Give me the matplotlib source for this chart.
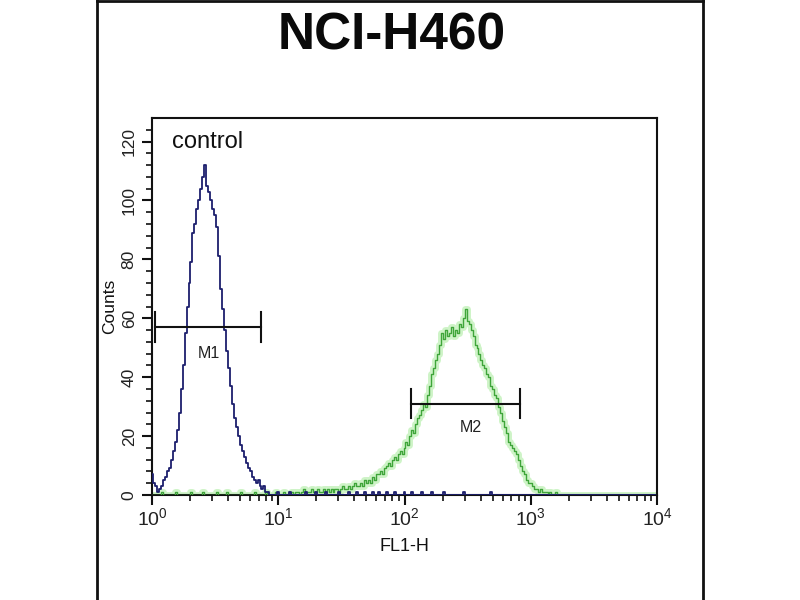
import numpy as np
import matplotlib
matplotlib.use("Agg")
import matplotlib.pyplot as plt
from matplotlib.lines import Line2D
from matplotlib.ticker import FixedLocator, LogLocator, NullFormatter

# ---------------- data ----------------
title = "NCI-H460"
x_label = "FL1-H"
y_label = "Counts"
channels_per_decade = 64
n_channels = 256

# control (blue) histogram counts, channel 0 onward
control_peak = [7, 4, 3, 1, 2, 3, 5, 6, 8, 9, 12, 15, 18, 22, 28, 36, 44, 55, 64, 72,
                79, 89, 92, 97, 100, 104, 108, 112, 105, 103, 100, 97, 95, 91, 81, 70,
                63, 56, 49, 43, 37, 31, 26, 23, 20, 17, 15, 13, 11, 9, 8, 6, 5, 4, 5,
                3, 2, 3, 1, 1, 0]
control_tail = [0, 0, 0, 1, 0, 0, 0, 0, 0, 1, 0, 0, 0, 0, 0, 0, 0, 1, 0, 0,
                0, 0, 1, 0, 0, 0, 0, 1, 0, 0, 0, 0, 0, 0, 1, 0, 0, 0, 0, 1,
                0, 0, 0, 1, 0, 0, 0, 1, 0, 0, 0, 1, 0, 0, 1, 0, 0, 0, 1, 0,
                0, 0, 1, 0, 0, 0, 0, 1, 0, 0, 0, 1, 0, 0, 0, 0, 1, 0, 0, 0,
                0, 1, 0, 0, 0, 0, 0, 1, 0, 0, 0, 0, 0, 0, 0, 0, 0, 1, 0, 0,
                0, 0, 0, 0, 0, 0, 0, 0, 0, 0, 0, 1, 0, 0, 0, 0, 0, 0, 0, 0]

# sample (green) histogram counts, channel 0 onward
sample_head = [0, 0, 0, 0, 0, 1, 0, 0, 0, 0, 0, 0, 1, 0, 0, 0, 0, 0, 0, 0,
               1, 0, 0, 0, 0, 0, 1, 0, 0, 0, 0, 0, 0, 1, 0, 0, 0, 0, 1, 0,
               0, 0, 0, 0, 0, 1, 0, 0, 0, 0, 0, 0, 1, 0, 0, 0, 0, 0, 1, 0,
               0, 0, 0, 1, 0, 0, 0, 1, 0, 0]
sample_peak = [0, 1, 0, 1, 1, 0, 1, 2, 1, 1, 1, 2, 1, 1, 2, 1, 1, 2, 1, 2,
               1, 2, 1, 2, 2, 1, 2, 3, 2, 2, 3, 2, 3, 4, 3, 3, 4, 3, 5, 4,
               5, 4, 6, 5, 7, 7, 8, 7, 9, 10, 11, 10, 12, 13, 12, 14, 15, 14, 16, 18,
               17, 20, 22, 21, 24, 26, 27, 29, 31, 30, 34, 37, 41, 43, 46, 48, 51, 55, 53, 56,
               54, 55, 57, 54, 56, 55, 58, 57, 60, 63, 59, 58, 56, 54, 51, 50, 48, 46, 44, 43,
               41, 40, 37, 36, 34, 33, 30, 28, 25, 23, 21, 18, 17, 16, 15, 14, 12, 10, 8, 7,
               5, 4, 4, 3, 2, 2, 1, 2, 1, 1, 1, 0, 1, 0, 0, 1, 0, 0]

# marker gates (FL1-H range, level in counts)
gate_names = ["M1", "M2"]
gate_lo = [1.06, 112]
gate_hi = [7.3, 815]
gate_level = [57, 31]
gate_label_x = [2.83, 333]
gate_label_y = [48, 23]

y_ticks = [0, 20, 40, 60, 80, 100, 120]
x_decades = [0, 1, 2, 3, 4]

# ---------------- build series ----------------
control = np.array(control_peak + control_tail, dtype=float)
sample = np.array(sample_head + sample_peak, dtype=float)
control = np.concatenate([control, np.zeros(n_channels - len(control))])
sample = np.concatenate([sample, np.zeros(n_channels - len(sample))])
fl1 = 10 ** (np.arange(n_channels) / channels_per_decade)

# ---------------- figure ----------------
fig = plt.figure(figsize=(8, 6), dpi=100)
fig.patch.set_facecolor("white")
ax = fig.add_axes([152 / 800, 1 - 495 / 600, (657 - 152) / 800, (495 - 118) / 600])

ax.plot(fl1, sample, drawstyle="steps-mid", color="#c6f2bd", lw=5, alpha=0.85, zorder=2)
ax.plot(fl1, sample, drawstyle="steps-mid", color="#3fa53a", lw=1.0, zorder=3)
ax.plot(fl1, control, drawstyle="steps-mid", color="#1d1f6d", lw=1.3, zorder=4)

for name, lo, hi, lvl, lx, ly in zip(gate_names, gate_lo, gate_hi, gate_level,
                                     gate_label_x, gate_label_y):
    ax.plot([lo, hi], [lvl, lvl], color="#111111", lw=1.5, zorder=5)
    ax.plot([lo, lo], [lvl - 5, lvl + 5], color="#111111", lw=1.5, zorder=5)
    ax.plot([hi, hi], [lvl - 5, lvl + 5], color="#111111", lw=1.5, zorder=5)
    ax.text(lx, ly, name, ha="center", va="center", fontsize=11.5,
            family="Liberation Sans", color="#222222", zorder=6)

ax.text(2.75, 120, "control", ha="center", va="center", fontsize=17,
        family="Liberation Sans", color="#111111")

ax.set_xscale("log")
ax.set_xlim(1, 1e4)
ax.set_ylim(0, 128)

ax.xaxis.set_major_locator(FixedLocator([10.0 ** d for d in x_decades]))
ax.xaxis.set_minor_locator(LogLocator(base=10, subs=np.arange(2, 10)))
ax.xaxis.set_minor_formatter(NullFormatter())
ax.set_xticklabels([r"$\mathregular{10^{%d}}$" % d for d in x_decades],
                   fontsize=14, family="Liberation Sans", color="#222222")

ax.yaxis.set_major_locator(FixedLocator(y_ticks))
ax.yaxis.set_minor_locator(FixedLocator(np.arange(0, 128, 4)))
ax.set_yticklabels([str(v) for v in y_ticks], rotation=90, va="center",
                   fontsize=12.5, family="Liberation Sans", color="#222222")

ax.tick_params(axis="both", which="major", direction="out", length=7, width=1.5, color="#111111")
ax.tick_params(axis="both", which="minor", direction="out", length=4, width=1.2, color="#111111")
ax.tick_params(axis="x", pad=2)
ax.tick_params(axis="y", pad=4)

for s in ax.spines.values():
    s.set_linewidth(1.5)
    s.set_color("#111111")

ax.set_xlabel(x_label, fontsize=13, family="Liberation Sans", color="#111111", labelpad=6)
ax.set_ylabel(y_label, fontsize=12.5, family="Liberation Sans", color="#111111", labelpad=3)

fig.text(392 / 800, 1 - 36 / 600, title, ha="center", va="center", fontsize=37,
         fontweight="bold", family="Liberation Sans", color="#0a0a0a")

# outer frame
fig.add_artist(Line2D([97 / 800, 97 / 800], [0, 1], transform=fig.transFigure, color="#111111", lw=2))
fig.add_artist(Line2D([703 / 800, 703 / 800], [0, 1], transform=fig.transFigure, color="#111111", lw=2))
fig.add_artist(Line2D([97 / 800, 703 / 800], [0.999, 0.999], transform=fig.transFigure, color="#111111", lw=2))

fig.savefig("out.png", dpi=100)
